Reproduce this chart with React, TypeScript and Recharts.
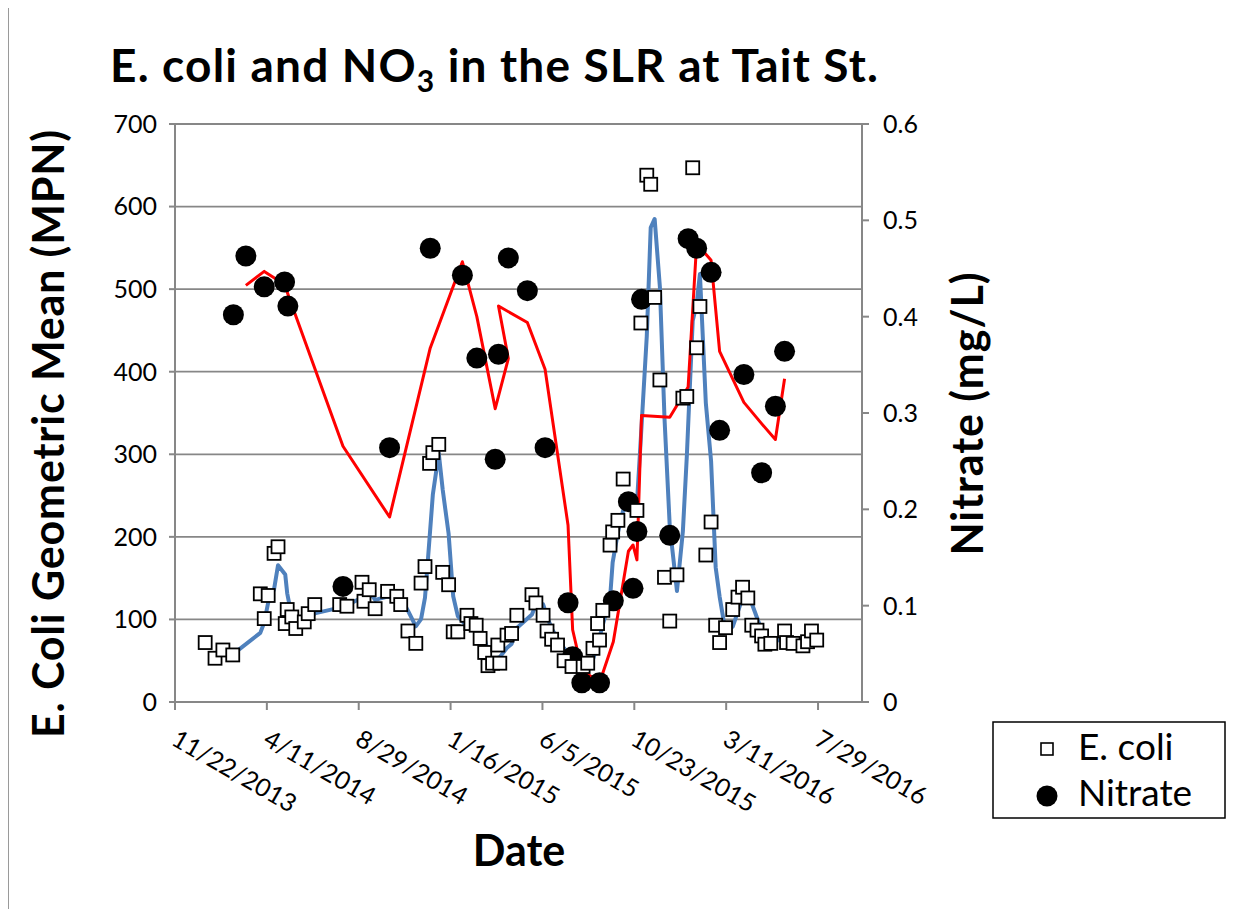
import React from 'react';
import { ComposedChart, Line, Scatter, XAxis, YAxis, CartesianGrid } from 'recharts';

// x values are days after 11/22/2013
const xTickDays = [0, 140, 280, 420, 560, 700, 840, 980];
const xTickLabels = ['11/22/2013', '4/11/2014', '8/29/2014', '1/16/2015', '6/5/2015', '10/23/2015', '3/11/2016', '7/29/2016'];
const leftTicks = [0, 100, 200, 300, 400, 500, 600, 700];
const rightTicks = [0, 0.1, 0.2, 0.3, 0.4, 0.5, 0.6];
const rightTickLabels = ['0', '0.1', '0.2', '0.3', '0.4', '0.5', '0.6'];

const ecoliDays = [46, 61, 73, 88, 130, 136, 142, 151, 157, 168, 171, 178, 184, 197, 203, 213, 251, 262, 285, 288, 296, 305, 324, 338, 344, 355, 367, 375, 381, 388, 393, 402, 408, 417, 424, 431, 445, 451, 459, 465, 472, 477, 484, 492, 495, 506, 513, 521, 544, 550, 561, 567, 574, 583, 593, 605, 622, 629, 637, 644, 647, 652, 663, 667, 675, 683, 704, 710, 719, 725, 731, 739, 746, 754, 765, 774, 780, 789, 795, 800, 809, 817, 824, 830, 839, 850, 858, 865, 873, 879, 887, 894, 899, 908, 929, 932, 942, 957, 964, 970, 978];
const ecoliValues = [72, 53, 63, 57, 131, 101, 129, 180, 188, 95, 112, 103, 89, 97, 107, 118, 118, 116, 145, 122, 136, 113, 134, 128, 118, 86, 71, 144, 164, 289, 302, 312, 157, 142, 85, 85, 105, 95, 93, 77, 60, 44, 47, 69, 47, 81, 83, 105, 130, 120, 105, 86, 76, 69, 50, 43, 43, 47, 65, 95, 75, 111, 190, 206, 220, 270, 232, 459, 638, 627, 490, 390, 151, 98, 154, 368, 370, 647, 429, 479, 178, 218, 93, 72, 90, 112, 127, 139, 126, 93, 87, 80, 70, 71, 86, 72, 71, 68, 73, 86, 75];

const nitrateDays = [89, 108, 136, 167, 172, 256, 327, 389, 438, 460, 488, 508, 493, 537, 564, 599, 606, 620, 647, 668, 691, 698, 704, 711, 754, 782, 795, 817, 830, 867, 894, 915, 929];
const nitrateValues = [0.402, 0.463, 0.431, 0.436, 0.411, 0.12, 0.264, 0.471, 0.443, 0.357, 0.252, 0.461, 0.361, 0.427, 0.264, 0.103, 0.047, 0.02, 0.02, 0.105, 0.208, 0.118, 0.177, 0.418, 0.173, 0.481, 0.471, 0.446, 0.282, 0.34, 0.238, 0.307, 0.364];

// moving-average trendline periods (as in the spreadsheet trendlines)
const ECOLI_PERIOD = 3;
const NITRATE_PERIOD = 2;

const toPoints = (days: number[], vals: number[]) => days.map((d, i) => ({ day: d, v: vals[i] }));
const movingAverage = (days: number[], vals: number[], n: number) => {
  const out: { day: number; v: number }[] = [];
  for (let i = n - 1; i < vals.length; i++) {
    let s = 0;
    for (let k = 0; k < n; k++) s += vals[i - k];
    out.push({ day: days[i], v: s / n });
  }
  return out;
};

const ecoliData = toPoints(ecoliDays, ecoliValues);
const nitrateData = toPoints(nitrateDays, nitrateValues);
const ecoliTrend = movingAverage(ecoliDays, ecoliValues, ECOLI_PERIOD);
const nitrateTrend = movingAverage(nitrateDays, nitrateValues, NITRATE_PERIOD);

const FONT = "Lato, 'Liberation Sans', sans-serif";
const GRID = '#878787';
const W = 1241;
const H = 901;

const Square = (p: any) =>
  p.cx == null ? <g /> : <rect x={p.cx - 6.5} y={p.cy - 6.5} width={13} height={13} fill="#fff" stroke="#000" strokeWidth={1.8} />;
const Dot = (p: any) => (p.cx == null ? <g /> : <circle cx={p.cx} cy={p.cy} r={10.5} fill="#000" />);

const XTick = (props: any) => {
  const { x, y, payload } = props;
  const i = xTickDays.indexOf(payload.value);
  const ax = x - 5;
  const ay = y + 32;
  return (
    <text x={ax} y={ay} transform={`rotate(30 ${ax} ${ay})`} fontFamily={FONT} fontSize={25} fill="#000">
      {xTickLabels[i]}
    </text>
  );
};

export default function App() {
  return (
    <div style={{ position: 'relative', width: W, height: H }}>
      <ComposedChart width={W} height={H} margin={{ top: 116, right: 307, bottom: 147, left: 87 }}>
        <CartesianGrid yAxisId="left" vertical={false} stroke={GRID} strokeWidth={1.8} />
        <XAxis
          dataKey="day"
          type="number"
          domain={[0, 1047]}
          ticks={xTickDays}
          interval={0}
          allowDataOverflow
          height={60}
          tickSize={8}
          tickMargin={2}
          tick={<XTick />}
          axisLine={{ stroke: GRID, strokeWidth: 2 }}
          tickLine={{ stroke: GRID, strokeWidth: 2 }}
        />
        <YAxis
          yAxisId="left"
          dataKey="v"
          domain={[0, 700]}
          ticks={leftTicks}
          interval={0}
          width={80}
          tickSize={6}
          tickMargin={12}
          axisLine={{ stroke: GRID, strokeWidth: 2 }}
          tickLine={{ stroke: GRID, strokeWidth: 2 }}
          tick={{ fontFamily: FONT, fontSize: 25, fill: '#000' }}
        />
        <YAxis
          yAxisId="right"
          dataKey="v"
          orientation="right"
          domain={[0, 0.6]}
          ticks={rightTicks}
          interval={0}
          width={80}
          tickSize={7}
          tickMargin={14}
          tickFormatter={(v: number) => rightTickLabels[rightTicks.indexOf(v)] ?? String(v)}
          axisLine={{ stroke: GRID, strokeWidth: 2 }}
          tickLine={{ stroke: GRID, strokeWidth: 2 }}
          tick={{ fontFamily: FONT, fontSize: 25, fill: '#000', textAnchor: 'start' }}
        />
        <Scatter yAxisId="right" data={nitrateData} dataKey="v" shape={Dot} isAnimationActive={false} />
        <Scatter yAxisId="left" data={ecoliData} dataKey="v" shape={Square} isAnimationActive={false} />
        <Line yAxisId="left" data={ecoliTrend} dataKey="v" type="linear" stroke="#4F81BD" strokeWidth={4} strokeLinejoin="round" dot={false} activeDot={false} isAnimationActive={false} />
        <Line yAxisId="right" data={nitrateTrend} dataKey="v" type="linear" stroke="#FF0000" strokeWidth={3} strokeLinejoin="round" dot={false} activeDot={false} isAnimationActive={false} />
      </ComposedChart>
      <svg width={W} height={H} style={{ position: 'absolute', left: 0, top: 0, pointerEvents: 'none' }}>
        <line x1={0.5} y1={0} x2={0.5} y2={H} stroke="#9a9a9a" strokeWidth={1} />
        <text x={102} y={74} fontFamily={FONT} fontWeight="bold" fontSize={46} fill="#000" textLength={768} lengthAdjust="spacing">
          E. coli and NO<tspan fontSize={30} dy={10}>3</tspan>
          <tspan dy={-10}> in the SLR at Tait St.</tspan>
        </text>
        <text x={56} y={426} transform="rotate(-90 56 426)" textAnchor="middle" fontFamily={FONT} fontWeight="bold" fontSize={43} fill="#000" textLength={608} lengthAdjust="spacing">
          E. Coli Geometric Mean (MPN)
        </text>
        <text x={975} y={406} transform="rotate(-90 975 406)" textAnchor="middle" fontFamily={FONT} fontWeight="bold" fontSize={43} fill="#000" textLength={283} lengthAdjust="spacing">
          Nitrate (mg/L)
        </text>
        <text x={511} y={858} textAnchor="middle" fontFamily={FONT} fontWeight="bold" fontSize={43} fill="#000">
          Date
        </text>
        <rect x={985} y={714} width={232} height={96} fill="#fff" stroke="#000" strokeWidth={1.5} />
        <rect x={1033} y={735} width={12} height={12} fill="#fff" stroke="#000" strokeWidth={1.6} />
        <text x={1070} y={752} fontFamily={FONT} fontSize={37} fill="#000">E. coli</text>
        <circle cx={1039} cy={788} r={10.5} fill="#000" />
        <text x={1070} y={798} fontFamily={FONT} fontSize={37} fill="#000">Nitrate</text>
      </svg>
    </div>
  );
}
